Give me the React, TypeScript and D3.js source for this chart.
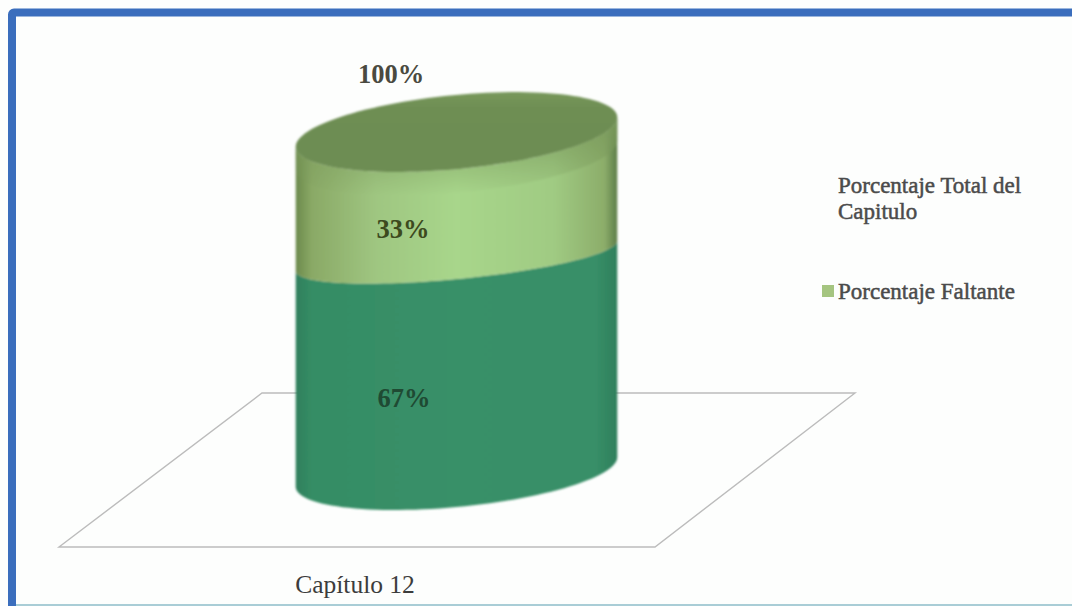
import React from "react";
import * as d3 from "d3";

const categories = ["Capítulo 12"];
const seriesNames = ["Porcentaje Total del Capitulo", "Porcentaje Faltante"];
const completedValues = [67];
const missingValues = [33];
const totalValues = [100];
const legendLines = [["Porcentaje Total del", "Capitulo"], ["Porcentaje Faltante"]];

const WIDTH = 1072;
const HEIGHT = 606;
const serif = "'Liberation Serif', serif";

// The value scale gives the lowest point of each ring on the column's front.
const y = d3.scaleLinear().domain([0, 100]).range([510, 172]);
const x = d3.scaleBand().domain(categories).range([295, 618]);
const tilt = (-5.5 * Math.PI) / 180;
const cx = (x(categories[0]) as number) + x.bandwidth() / 2;
const radiusX = x.bandwidth() / 2;

// Ring flattening at the base, the series boundary and the cap.
const baseRadiusY = 35;
const boundaryRadiusY = 23;
const capRadiusY = 37;

function ringPoint(value: number, radiusY: number, t: number): [number, number] {
  const reach = Math.hypot(radiusX * Math.sin(tilt), radiusY * Math.cos(tilt));
  const centerY = y(value) - reach;
  const ex = radiusX * Math.cos(t);
  const ey = radiusY * Math.sin(t);
  return [cx + ex * Math.cos(tilt) - ey * Math.sin(tilt), centerY + ex * Math.sin(tilt) + ey * Math.cos(tilt)];
}

// Front half of a ring, running between the two silhouette tangents.
function frontArc(value: number, radiusY: number): [number, number][] {
  const tangent = Math.atan2(-radiusY * Math.sin(tilt), radiusX * Math.cos(tilt));
  return d3.range(0, 61).map((i) => ringPoint(value, radiusY, tangent + (Math.PI * i) / 60));
}

const toPath = d3.line();

function bandPath(v0: number, r0: number, v1: number, r1: number): string {
  return (toPath([...frontArc(v0, r0), ...frontArc(v1, r1).reverse()]) as string) + "Z";
}

function ringPath(value: number, radiusY: number): string {
  const pts = d3.range(0, 121).map((i) => ringPoint(value, radiusY, (2 * Math.PI * i) / 120));
  return (toPath(pts) as string) + "Z";
}

const floor: [number, number][] = [
  [262, 393],
  [855, 393],
  [655, 547],
  [59, 547],
];

const stops = (id: string, colors: [number, string][]) => (
  <linearGradient id={id} x1="0" x2="1" y1="0" y2="0">
    {colors.map(([o, c]) => (
      <stop key={o} offset={o} stopColor={c} />
    ))}
  </linearGradient>
);

export default function App() {
  const completed = completedValues[0];
  const missing = missingValues[0];
  const total = totalValues[0];
  return (
    <svg width={WIDTH} height={HEIGHT} style={{ position: "absolute", left: 0, top: 0 }} fontFamily={serif}>
      <defs>
        {stops("lowerSide", [
          [0, "#2f7f5c"],
          [0.05, "#358d65"],
          [0.5, "#399068"],
          [0.93, "#388f68"],
          [1, "#2e7f5c"],
        ])}
        {stops("upperSide", [
          [0, "#6c8a4c"],
          [0.05, "#8aa966"],
          [0.25, "#9fc681"],
          [0.5, "#a8d68b"],
          [0.8, "#a0cb83"],
          [0.96, "#8cad6a"],
          [1, "#5d7d48"],
        ])}
        <linearGradient id="capFill" x1="0" x2="0" y1="0" y2="1">
          <stop offset={0} stopColor="#78985c" />
          <stop offset={0.2} stopColor="#6e8e53" />
          <stop offset={1} stopColor="#6d8d52" />
        </linearGradient>
        <linearGradient id="rimShade" x1="0" x2="0" y1="0" y2="1">
          <stop offset={0} stopColor="#7a9a5c" stopOpacity={0.9} />
          <stop offset={1} stopColor="#7a9a5c" stopOpacity={0} />
        </linearGradient>
        <filter id="soft" x="-5%" y="-5%" width="110%" height="110%">
          <feGaussianBlur stdDeviation="1" />
        </filter>
      </defs>

      <rect width={WIDTH} height={HEIGHT} fill="#fdfefd" />
      <rect x={12} y={12.5} width={1080} height={620} rx={2} fill="none" stroke="#3b6ebd" strokeWidth={8} />
      <rect x={16} y={604} width={WIDTH} height={2} fill="#a9cdd6" />

      <path d={(toPath(floor) as string) + "Z"} fill="none" stroke="#bcbcbc" strokeWidth={1.4} />

      <g filter="url(#soft)">
        <path d={bandPath(0, baseRadiusY, completed, boundaryRadiusY)} fill="url(#lowerSide)" />
        <path d={bandPath(completed, boundaryRadiusY, total, capRadiusY)} fill="url(#upperSide)" />
        <path d={bandPath(total - 7, capRadiusY, total, capRadiusY)} fill="url(#rimShade)" />
        <path d={ringPath(total, capRadiusY)} fill="url(#capFill)" />
      </g>

      <g fontWeight="bold" textAnchor="middle" fontSize={26.5}>
        <text x={391} y={83} fill="#4a4a40">{total}%</text>
        <text x={403} y={238} fill="#3d4a1e">{missing}%</text>
        <text x={404} y={407} fill="#1f4a33">{completed}%</text>
      </g>

      <text x={355} y={593} fontSize={25.5} textAnchor="middle" fill="#3c3c3c">
        {categories[0]}
      </text>

      <g fontSize={23} fill="#4b4b4b" stroke="#4b4b4b" strokeWidth={0.5}>
        <text x={838} y={193}>{legendLines[0][0]}</text>
        <text x={838} y={219}>{legendLines[0][1]}</text>
        <text x={838} y={299}>{legendLines[1][0]}</text>
      </g>
      <rect x={822} y={285} width={12} height={12} fill="#a5c580" aria-label={seriesNames[1]} />
    </svg>
  );
}
